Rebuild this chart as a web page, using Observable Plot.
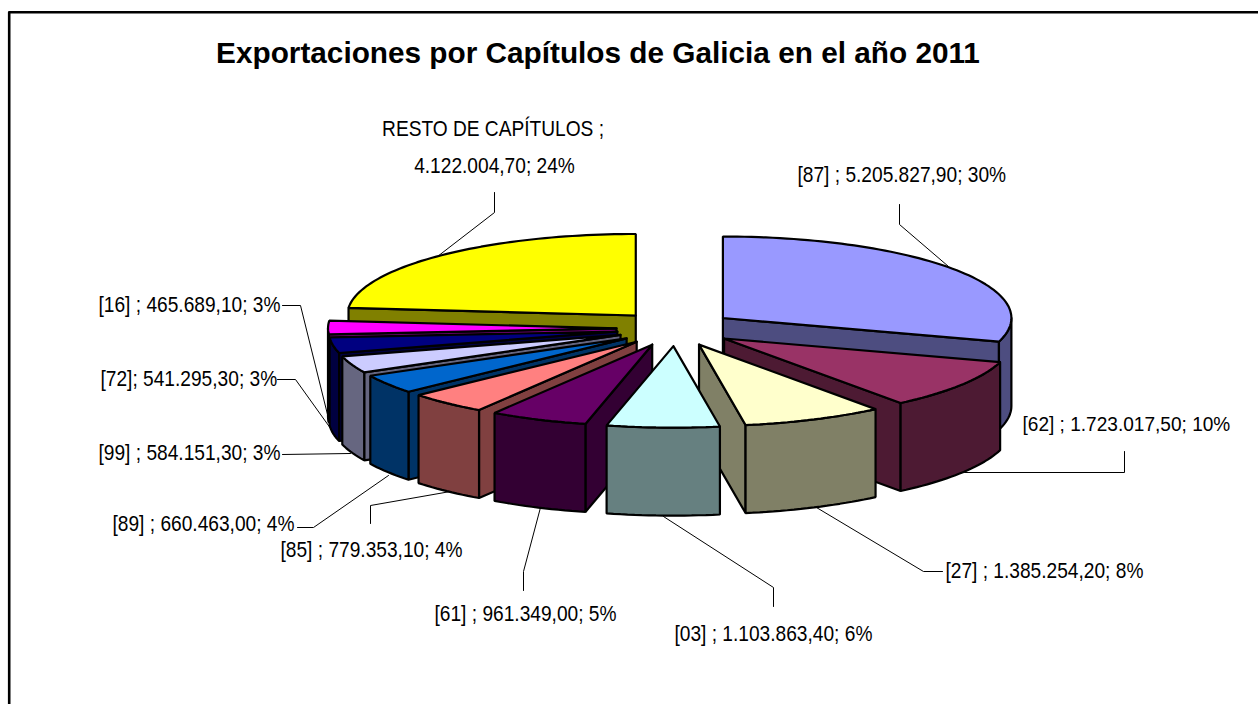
<!DOCTYPE html>
<html><head><meta charset="utf-8">
<script src="https://cdn.jsdelivr.net/npm/d3@7"></script>
<script src="https://cdn.jsdelivr.net/npm/@observablehq/plot@0.6"></script>
<style>html,body{margin:0;padding:0;background:#fff;overflow:hidden}svg{display:block}</style>
</head><body><div id="chart"></div>
<script>
const chapters = ["[87]","[62]","[27]","[03]","[61]","[85]","[89]","[99]","[72]","[16]","RESTO DE CAPÍTULOS"];
const exportsValues = [5205827.9,1723017.5,1385254.2,1103863.4,961349.0,779353.1,660463.0,584151.3,541295.3,465689.1,4122004.7];
const topColors = ["#9999FF","#993366","#FFFFCC","#CCFFFF","#660066","#FF8080","#0066CC","#CCCCFF","#000080","#FF00FF","#FFFF00"];
const sideColors = ["#4D4D80","#4D1A33","#808066","#668080","#330033","#804040","#003366","#666680","#000040","#800080","#808000"];
const separators = [" ; "," ; "," ; "," ; "," ; "," ; "," ; "," ; ","; "," ; "," ; "];
const title = "Exportaciones por Capítulos de Galicia en el año 2011";

// pie projection layout
const C = {cx:675, cy:328, rx:288.5, ry:81.5, depth:88, ex:59, ey:17.6};
const total = d3.sum(exportsValues);
let acc = 0;
const slices = chapters.map((name,i)=>{
  const a0 = acc/total*2*Math.PI; acc += exportsValues[i];
  const a1 = acc/total*2*Math.PI; const mid=(a0+a1)/2;
  return {i,name,a0,a1,mid,top:topColors[i],side:sideColors[i],
    ax:C.cx+C.ex*Math.sin(mid), ay:C.cy-C.ey*Math.cos(mid)};
});
const rim=(s,a,d=0)=>[s.ax+C.rx*Math.sin(a), s.ay-C.ry*Math.cos(a)+d];
const arc=(s,a0,a1,d=0)=>{const n=Math.max(2,Math.ceil((a1-a0)*40));return d3.range(n+1).map(k=>rim(s,a0+(a1-a0)*k/n,d));};
// painter's order: back to front
const order=[0,10,9,8,7,6,1,5,4,2,3];
const polys=[]; let pid=0;
const add=(pts,fill)=>{pid++;pts.concat([pts[0]]).forEach(p=>polys.push({x:p[0],y:p[1],id:pid,fill}));};
for(const i of order){
  const s=slices[i], A=[s.ax,s.ay], B=[s.ax,s.ay+C.depth];
  if(s.a0>Math.PI) add([A,rim(s,s.a0),rim(s,s.a0,C.depth),B],s.side);
  if(s.a1<Math.PI) add([A,rim(s,s.a1),rim(s,s.a1,C.depth),B],s.side);
  const w0=Math.max(s.a0,Math.PI/2), w1=Math.min(s.a1,Math.PI*1.5);
  if(w1>w0) add([...arc(s,w0,w1),...arc(s,w0,w1,C.depth).reverse()],s.side);
  add([A,...arc(s,s.a0,s.a1)],s.top);
}
// leader lines and label anchors (annotation layout)
const fmt=d3.formatLocale({decimal:",",thousands:".",grouping:[3],currency:["","€"]}).format(",.2f");
const pct=v=>Math.round(v/total*100)+"%";
const labelText=i=>chapters[i]+separators[i]+fmt(exportsValues[i])+"; "+pct(exportsValues[i]);
const labelLayout=[
 {i:0,x:797,y:174,lead:[[899,204],[899,224],[948,266]]},
 {i:2,x:945,y:570,lead:[[942,571],[923,571],[816,507]]},
 {i:3,x:674,y:633,lead:[[773,606],[773,587],[663,516]]},
 {i:4,x:434,y:613,lead:[[523,590],[523,571],[540,507]]},
 {i:5,x:280,y:549,lead:[[370,523],[370,505],[450,491]]},
 {i:6,x:112,y:523,lead:[[297,527],[313,527],[388,475]]},
 {i:7,x:98,y:452,lead:[[282,454],[350,453]]},
 {i:8,x:100,y:378,lead:[[277,379],[295,379],[333,432]]},
 {i:9,x:98,y:304,lead:[[282,305],[300,305],[328,418]]},
];
const leads=[];
labelLayout.forEach(l=>l.lead.forEach(p=>leads.push({x:p[0],y:p[1],id:l.i})));
[[1124,451],[1124,472],[964,472]].forEach(p=>leads.push({x:p[0],y:p[1],id:1}));
[[494,192],[494,212],[437,256]].forEach(p=>leads.push({x:p[0],y:p[1],id:10}));
const labels=labelLayout.map(l=>({x:l.x,y:l.y,t:labelText(l.i)}));
const labelsMid=[
  {x:492.5,y:128.5,t:chapters[10]+" ;"},
  {x:494,y:165.5,t:fmt(exportsValues[10])+"; "+pct(exportsValues[10])}
];

const font='"Liberation Sans",Arial,sans-serif';
const chart=Plot.plot({
  width:1258,height:704,margin:0,
  x:{domain:[0,1258],range:[0,1258],axis:null},
  y:{domain:[0,704],range:[0,704],axis:null},
  marks:[
    Plot.line([{x:8.7,y:704},{x:8.7,y:11.7},{x:1258,y:11.7}],{x:"x",y:"y",stroke:"#000",strokeWidth:2.6,curve:"linear"}),
    Plot.line(leads,{x:"x",y:"y",z:"id",stroke:"#000",strokeWidth:1,curve:"linear"}),
    ...d3.groups(polys,d=>d.id).map(([id,pts])=>Plot.line(pts,{x:"x",y:"y",fill:pts[0].fill,stroke:"#000",strokeWidth:2.2,strokeLinejoin:"miter",curve:"linear"})),
    Plot.text(labels,{x:"x",y:"y",text:"t",textAnchor:"start",fontSize:22,fontFamily:font,fill:"#000",className:"lbl"}),
    Plot.text(labelsMid,{x:"x",y:"y",text:"t",textAnchor:"middle",fontSize:22,fontFamily:font,fill:"#000",className:"lbl"}),
    Plot.text([{x:1022,y:424,t:labelText(1)}],{x:"x",y:"y",text:"t",textAnchor:"start",fontSize:20.5,fontFamily:font,fill:"#000",className:"lblSmall"}),
    Plot.text([title],{x:()=>597.5,y:()=>53,text:d=>d,textAnchor:"middle",fontSize:29.75,fontWeight:"bold",fontFamily:font,fill:"#000"})
  ]
});
document.getElementById("chart").append(chart);
// condensed labels: the narrow face of the original is not installed
const condense=(sel,k)=>chart.querySelectorAll(sel).forEach(t=>{
  t.setAttribute("textLength",(t.getComputedTextLength()*k).toFixed(1));
  t.setAttribute("lengthAdjust","spacingAndGlyphs");
});
condense(".lbl text",0.87);
condense(".lblSmall text",0.93);
</script></body></html>
